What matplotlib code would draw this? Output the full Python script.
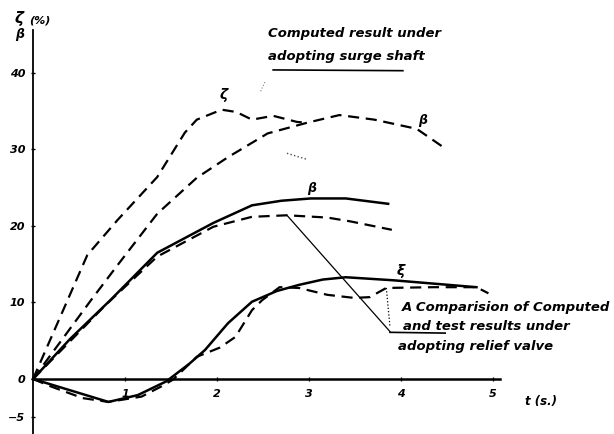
import numpy as np
from matplotlib import pyplot as plt

# computed, surge shaft (dashed, upper two)
t_zeta_shaft = [0, 0.59, 0.92, 1.35, 1.65, 1.78, 2.05, 2.21, 2.38, 2.61, 2.87, 2.98]
zeta_shaft = [0, 16.2, 20.8, 26.4, 32.2, 33.9, 35.2, 34.9, 33.9, 34.4, 33.6, 33.5]
t_beta_shaft = [0, 0.63, 0.92, 1.35, 1.78, 2.12, 2.55, 2.98, 3.33, 3.71, 4.17, 4.46]
beta_shaft = [0, 10.3, 14.9, 21.6, 26.3, 29.0, 32.1, 33.5, 34.5, 33.9, 32.7, 30.3]

# relief valve: computed (solid) and test (dashed)
t_beta_calc = [0, 0.4, 0.84, 1.35, 1.96, 2.38, 2.7, 3.02, 3.40, 3.86]
beta_calc = [0, 5.2, 10.3, 16.5, 20.4, 22.7, 23.3, 23.6, 23.6, 22.9]
t_beta_test = [0, 0.8, 1.35, 1.96, 2.38, 2.76, 3.2, 3.45, 3.9]
beta_test = [0, 9.8, 16.0, 19.9, 21.2, 21.4, 21.1, 20.6, 19.5]

t_xi_calc = [0, 0.82, 1.14, 1.45, 1.7, 1.87, 2.12, 2.38, 2.65, 2.89, 3.15, 3.40, 3.92, 4.82]
xi_calc = [0, -3.0, -2.1, -0.3, 2.0, 3.8, 7.3, 10.1, 11.5, 12.3, 13.0, 13.3, 12.9, 12.0]
t_xi_test = [0, 0.2, 0.54, 0.82, 1.18, 1.39, 1.52, 1.78, 2.03, 2.2, 2.38, 2.49, 2.68,
             2.89, 3.2, 3.49, 3.66, 3.84, 4.35, 4.82, 4.95]
xi_test = [0, -1.0, -2.5, -3.0, -2.3, -1.0, -0.1, 2.9, 4.1, 5.5, 9.0, 10.3, 12.0,
           11.9, 11.0, 10.6, 10.7, 11.9, 12.0, 12.0, 11.2]

x_ticks = [1, 2, 3, 4, 5]
y_ticks = [-5, 0, 10, 20, 30, 40]

hand = dict(style='italic', fontweight='bold', color='black')

fig = plt.figure(figsize=(6.14, 4.34), dpi=100)
ax = fig.add_axes([0, 0, 1, 1])
ax.set_xlim(-0.359, 6.315)
ax.set_ylim(-7.19, 49.54)

dash = (5, 3)
ax.plot(t_zeta_shaft, zeta_shaft, 'k--', lw=1.6, dashes=dash)
ax.plot(t_beta_shaft, beta_shaft, 'k--', lw=1.6, dashes=dash)
ax.plot(t_beta_calc, beta_calc, 'k-', lw=1.8)
ax.plot(t_beta_test, beta_test, 'k--', lw=1.6, dashes=dash)
ax.plot(t_xi_calc, xi_calc, 'k-', lw=1.8)
ax.plot(t_xi_test, xi_test, 'k--', lw=1.6, dashes=dash)

# axes drawn through the origin
for s in ['top', 'right']:
    ax.spines[s].set_visible(False)
ax.spines['left'].set_position(('data', 0))
ax.spines['bottom'].set_position(('data', 0))
ax.spines['left'].set_bounds(-7.2, 45.6)
ax.spines['bottom'].set_bounds(0, 5.08)
ax.spines['left'].set_linewidth(1.3)
ax.spines['bottom'].set_linewidth(1.8)
ax.set_xticks(x_ticks)
ax.set_yticks(y_ticks)
ax.tick_params(axis='both', direction='inout', length=3, width=1, labelsize=8)
ax.tick_params(axis='x', pad=6)
ax.tick_params(axis='y', pad=4)
for lab in ax.get_xticklabels() + ax.get_yticklabels():
    lab.set_fontweight('bold')
    lab.set_style('italic')

# axis titles
ax.text(-0.2, 47.1, 'ζ', fontsize=11, va='center', **hand)
ax.text(-0.04, 46.9, '(%)', fontsize=8, va='center', **hand)
ax.text(-0.19, 45.0, 'β', fontsize=9, va='center', **hand)
ax.text(5.35, -3.0, 't (s.)', fontsize=8.5, va='center', **hand)

# curve labels
ax.text(2.07, 36.6, 'ζ', fontsize=10, ha='center', **hand)
ax.text(4.24, 33.3, 'β', fontsize=9, ha='center', **hand)
ax.text(3.03, 24.4, 'β', fontsize=9, ha='center', **hand)
ax.text(4.0, 13.6, 'ξ', fontsize=10, ha='center', **hand)

# note for surge shaft
ax.text(2.55, 45.1, 'Computed result under', fontsize=9.5, va='center', **hand)
ax.text(2.55, 42.2, 'adopting surge shaft', fontsize=9.5, va='center', **hand)
ax.plot([2.61, 4.02], [40.4, 40.3], 'k-', lw=1.2)
ax.plot([2.52, 2.47], [38.8, 37.5], 'k:', lw=0.8, alpha=0.5)
ax.plot([2.76, 2.98], [29.5, 28.7], 'k:', lw=1.0, alpha=0.7)

# note for relief valve
ax.text(4.01, 9.3, 'A Comparision of Computed', fontsize=9.5, va='center', **hand)
ax.text(4.02, 6.9, 'and test results under', fontsize=9.5, va='center', **hand)
ax.text(3.97, 4.3, 'adopting relief valve', fontsize=9.5, va='center', **hand)
ax.plot([2.76, 3.88], [21.4, 6.2], 'k-', lw=0.9)
ax.plot([3.88, 4.48], [6.1, 6.0], 'k-', lw=1.2)
ax.plot([3.84, 3.88], [11.9, 6.8], 'k:', lw=0.9)

fig.savefig('out.png', dpi=100)
